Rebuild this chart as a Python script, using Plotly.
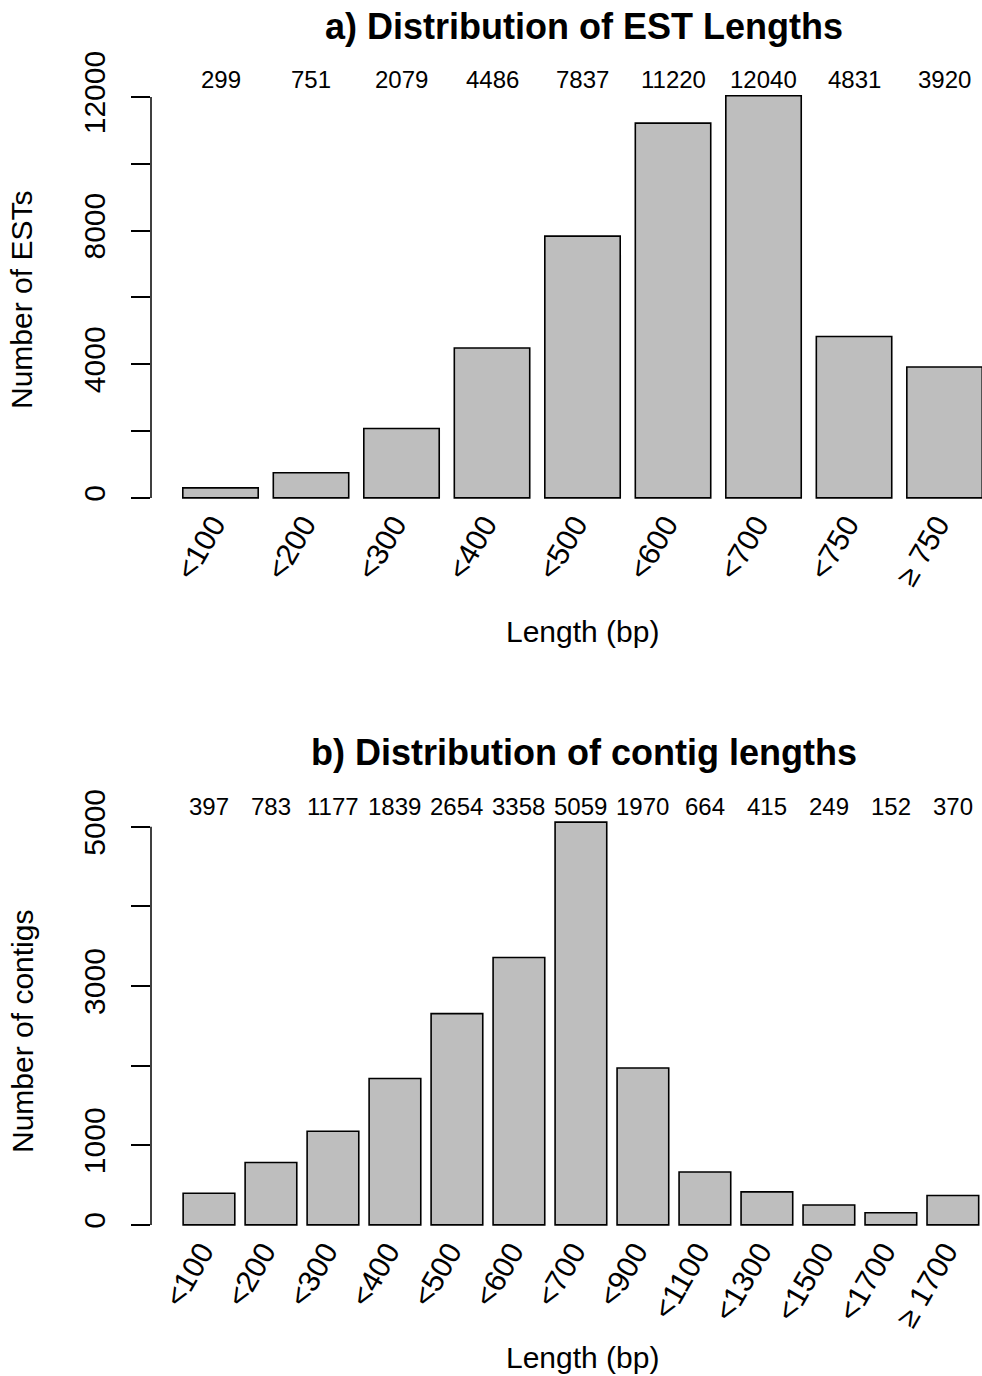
import plotly.graph_objects as go

# ---- data ----
est_labels = ["<100", "<200", "<300", "<400", "<500", "<600", "<700", "<750", "≥ 750"]
est_counts = [299, 751, 2079, 4486, 7837, 11220, 12040, 4831, 3920]

contig_labels = ["<100", "<200", "<300", "<400", "<500", "<600", "<700", "<900",
                 "<1100", "<1300", "<1500", "<1700", "≥ 1700"]
contig_counts = [397, 783, 1177, 1839, 2654, 3358, 5059, 1970, 664, 415, 249, 152, 370]

est_yticks = [0, 2000, 4000, 6000, 8000, 10000, 12000]
est_yticktext = ["0", "", "4000", "", "8000", "", "12000"]
contig_yticks = [0, 1000, 2000, 3000, 4000, 5000]
contig_yticktext = ["0", "1000", "", "3000", "", "5000"]

FONT = "Liberation Sans, Arial, Helvetica, sans-serif"
W, H = 982, 1376
L = 151
PW = W - L

def px_x(p):
    return (p - L) / PW

def px_y(p):
    return 1 - p / H

fig = go.Figure()

bar_style = dict(marker=dict(color="#BEBEBE", line=dict(color="black", width=1.6)),
                 showlegend=False, hoverinfo="x+y")

fig.add_trace(go.Bar(x=est_labels, y=est_counts, xaxis="x", yaxis="y", **bar_style))
fig.add_trace(go.Bar(x=contig_labels, y=contig_counts, xaxis="x2", yaxis="y2", **bar_style))

def yrange(vals):
    m = max(vals)
    return [-0.04 * m, 1.04 * m]

ra = yrange(est_counts)
rb = yrange(contig_counts)

common_x = dict(showgrid=False, zeroline=False, showline=False, ticks="",
                tickangle=-60, tickfont=dict(size=30, family=FONT, color="black"),
                automargin=False, type="category", fixedrange=True,
                ticklabelstandoff=-14, ticklabelshift=-7)
common_y = dict(showgrid=False, zeroline=False, showline=False, ticks="outside",
                ticklen=19, tickwidth=1.5, tickcolor="black", tickangle=-90,
                tickfont=dict(size=30, family=FONT, color="black"),
                automargin=False, ticklabelstandoff=14, fixedrange=True)

fig.update_layout(
    width=W, height=H,
    margin=dict(l=L, r=0, t=0, b=0),
    paper_bgcolor="white", plot_bgcolor="white",
    bargap=0.2 / 1.2,
    font=dict(family=FONT, color="black"),
    xaxis=dict(domain=[0, 1], anchor="y",
               range=[-0.768, 8.414], **common_x),
    yaxis=dict(domain=[px_y(514), px_y(79.6)], anchor="x", range=ra,
               tickvals=est_yticks, ticktext=est_yticktext, **common_y),
    xaxis2=dict(domain=[0, 1], anchor="y2",
                range=[-0.935, 12.47], **common_x),
    yaxis2=dict(domain=[px_y(1241), px_y(806)], anchor="x2", range=rb,
                tickvals=contig_yticks, ticktext=contig_yticktext, **common_y),
)

# y-axis lines spanning only the tick range (R style)
fig.add_shape(type="line", xref="paper", yref="y", x0=0, x1=0,
              y0=est_yticks[0], y1=est_yticks[-1], line=dict(color="black", width=1.5))
fig.add_shape(type="line", xref="paper", yref="y2", x0=0, x1=0,
              y0=contig_yticks[0], y1=contig_yticks[-1], line=dict(color="black", width=1.5))

# count labels above bars
for lab, c in zip(est_labels, est_counts):
    fig.add_annotation(x=lab, y=ra[1], xref="x", yref="y", text=str(c), showarrow=False,
                       yanchor="middle", xanchor="center",
                       font=dict(size=24, family=FONT, color="black"))
for lab, c in zip(contig_labels, contig_counts):
    fig.add_annotation(x=lab, y=rb[1], xref="x2", yref="y2", text=str(c), showarrow=False,
                       yanchor="middle", xanchor="center",
                       font=dict(size=24, family=FONT, color="black"))

def ann(text, x, y, size=30, bold=False, angle=0):
    fig.add_annotation(x=px_x(x), y=px_y(y), xref="paper", yref="paper",
                       text=f"<b>{text}</b>" if bold else text, showarrow=False,
                       xanchor="center", yanchor="middle", textangle=angle,
                       font=dict(size=size, family=FONT, color="black"))

ann("a) Distribution of EST Lengths", 584, 27, size=36, bold=True)
ann("b) Distribution of contig lengths", 584, 752, size=36, bold=True)
ann("Length (bp)", 582, 632)
ann("Length (bp)", 582, 1357)
ann("Number of ESTs", 22, 300, angle=-90)
ann("Number of contigs", 22, 1032, angle=-90)

fig.write_html("out.html")
